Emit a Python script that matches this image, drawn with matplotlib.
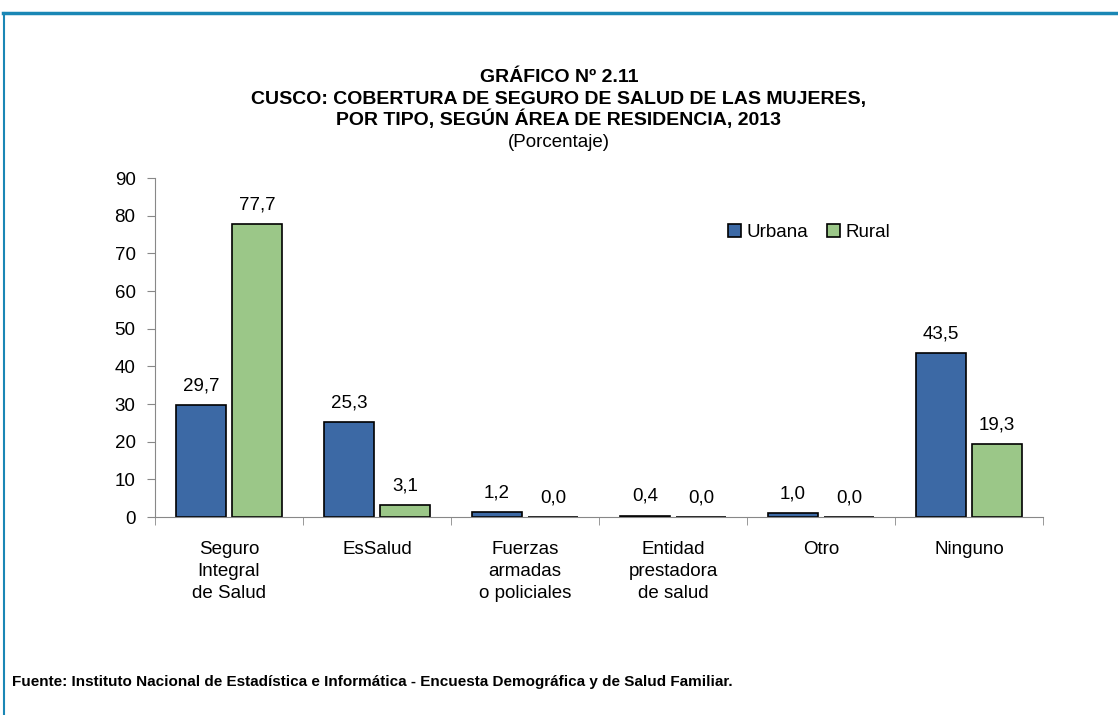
import matplotlib.pyplot as plt
import numpy as np
from matplotlib.lines import Line2D

plt.rcParams['font.family'] = ['Liberation Sans Narrow', 'Liberation Sans', 'DejaVu Sans']

categorias = ['Seguro\nIntegral\nde Salud', 'EsSalud', 'Fuerzas\narmadas\no policiales',
              'Entidad\nprestadora\nde salud', 'Otro', 'Ninguno']
urbana = [29.7, 25.3, 1.2, 0.4, 1.0, 43.5]
rural = [77.7, 3.1, 0.0, 0.0, 0.0, 19.3]

col_urb = '#3c69a5'
col_rur = '#9bc788'

fig = plt.figure(figsize=(11.18, 7.15), dpi=100)
ax = fig.add_axes([0.1386, 0.2769, 0.7944, 0.4741])

x = np.arange(len(categorias))
w = 0.34
ax.bar(x - 0.19, urbana, w, color=col_urb, edgecolor='black', linewidth=1.2, label='Urbana')
ax.bar(x + 0.19, rural, w, color=col_rur, edgecolor='black', linewidth=1.2, label='Rural')

# etiquetas de valor con coma decimal
for xi, v in zip(x - 0.19, urbana):
    ax.text(xi, v + 2.8, f'{v:.1f}'.replace('.', ','), ha='center', va='bottom', fontsize=13.5)
for xi, v in zip(x + 0.19, rural):
    ax.text(xi, v + 2.8, f'{v:.1f}'.replace('.', ','), ha='center', va='bottom', fontsize=13.5)

ax.set_xlim(-0.5, 5.5)
ax.set_ylim(0, 90)
ax.set_yticks(range(0, 91, 10))
ax.tick_params(axis='y', labelsize=13.5, length=6, color='#888888', pad=8)
ax.set_xticks(x)
ax.set_xticklabels(categorias, fontsize=13.5, va='top', linespacing=1.4)
ax.tick_params(axis='x', length=0, pad=17)
ax.set_xticks(np.arange(-0.5, 6, 1), minor=True)
ax.tick_params(axis='x', which='minor', length=6, color='#888888', direction='out')
for s in ['top', 'right']:
    ax.spines[s].set_visible(False)
ax.spines['left'].set_color('#888888')
ax.spines['bottom'].set_color('#888888')

ax.legend(loc='upper left', bbox_to_anchor=(0.626, 0.914), ncol=2, frameon=False,
          fontsize=13.5, handlelength=0.7, handleheight=0.7, handletextpad=0.3, columnspacing=1.0)

fig.text(0.5, 0.885, 'GRÁFICO Nº 2.11', ha='center', fontsize=14, fontweight='bold')
fig.text(0.5, 0.855, 'CUSCO: COBERTURA DE SEGURO DE SALUD DE LAS MUJERES,', ha='center', fontsize=14, fontweight='bold')
fig.text(0.5, 0.825, 'POR TIPO, SEGÚN ÁREA DE RESIDENCIA, 2013', ha='center', fontsize=14, fontweight='bold')
fig.text(0.5, 0.794, '(Porcentaje)', ha='center', fontsize=13.5)

fig.text(0.011, 0.040, 'Fuente: Instituto Nacional de Estadística e Informática - Encuesta Demográfica y de Salud Familiar.',
         fontsize=11, fontweight='bold')

# marco azul (arriba e izquierda)
fig.add_artist(Line2D([0.003, 1.0], [0.982, 0.982], color='#1a87b5', linewidth=2.5))
fig.add_artist(Line2D([0.004, 0.004], [0.0, 0.982], color='#1a87b5', linewidth=1.5))

fig.savefig('out.png', dpi=100)
